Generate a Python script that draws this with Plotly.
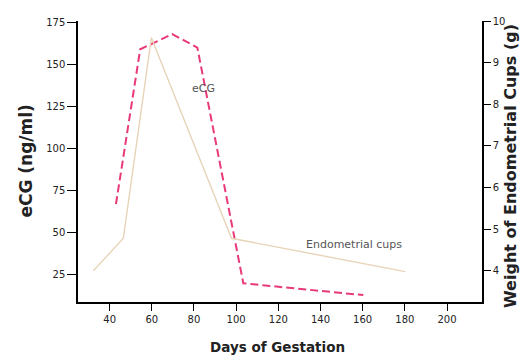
import plotly.graph_objects as go

# eCG concentration (ng/ml), left axis
ecg_days = [43, 54.5, 69.7, 81.6, 103.4, 160.3]
ecg_values = [67, 159, 168, 160, 20, 13]

# endometrial cup weight (g), right axis
cup_days = [32.3, 46.5, 59.8, 97.8, 180.2]
cup_weight = [4.0, 4.78, 9.6, 4.78, 3.98]

x_ticks = [40, 60, 80, 100, 120, 140, 160, 180, 200]
left_ticks = [25, 50, 75, 100, 125, 150, 175]
right_ticks = [4, 5, 6, 7, 8, 9, 10]

tick_font = dict(family="DejaVu Sans", size=10, color="#222")
title_font = "DejaVu Sans"

fig = go.Figure()
fig.add_trace(go.Scatter(
    x=cup_days, y=cup_weight, mode="lines", yaxis="y2",
    line=dict(color="#e8d4b8", width=1.4), hoverinfo="skip"
))
fig.add_trace(go.Scatter(
    x=ecg_days, y=ecg_values, mode="lines",
    line=dict(color="#e8397a", width=2, dash="8px,4px")
))

axis_common = dict(
    showgrid=False, zeroline=False, showline=True, linecolor="black", linewidth=1.5,
    ticks="outside", tickcolor="black", tickwidth=1.2, tickfont=tick_font
)

# page body has an 8px margin, so the figure is 8px smaller and shifted
fig.update_layout(
    width=520, height=353,
    margin=dict(l=70, r=46, t=7, b=59),
    paper_bgcolor="white", plot_bgcolor="white",
    showlegend=False,
    xaxis=dict(range=[25, 216.6], tickvals=x_ticks, ticklen=7, **axis_common),
    yaxis=dict(range=[8.9, 175.8], tickvals=left_ticks, ticklen=9, **axis_common),
    yaxis2=dict(range=[3.25, 10.0], tickvals=right_ticks, ticklen=7,
                overlaying="y", side="right", **axis_common),
    annotations=[
        dict(text="eCG", x=84.4, y=136, xref="x", yref="y", showarrow=False,
             font=dict(family="DejaVu Sans", size=11, color="#555")),
        dict(text="Endometrial cups", x=156, y=43, xref="x", yref="y", showarrow=False,
             font=dict(family="DejaVu Sans", size=11, color="#555")),
        dict(text="<b>eCG (ng/ml)</b>", x=-0.131, y=0.5, xref="paper", yref="paper",
             textangle=-90, showarrow=False, xanchor="center", yanchor="middle",
             font=dict(family=title_font, size=17, color="#222")),
        dict(text="<b>Weight of Endometrial Cups (g)</b>", x=1.072, y=-0.028,
             xref="paper", yref="paper", textangle=-90, showarrow=False,
             xanchor="center", yanchor="bottom",
             font=dict(family=title_font, size=16, color="#222")),
        dict(text="<b>Days of Gestation</b>", x=0.4926, y=-0.16, xref="paper", yref="paper",
             showarrow=False, xanchor="center", yanchor="middle",
             font=dict(family=title_font, size=13.5, color="#222")),
    ],
)

fig.write_html("out.html")
